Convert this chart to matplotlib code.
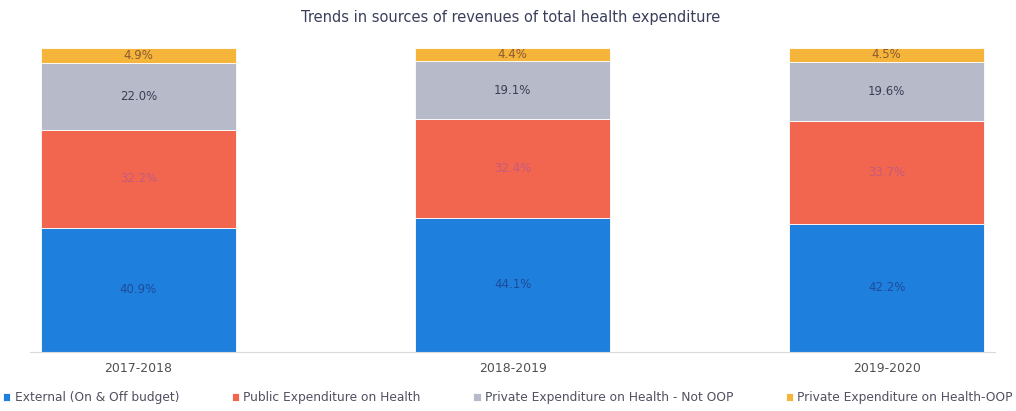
import matplotlib
matplotlib.use("Agg")
import matplotlib.pyplot as plt
import numpy as np

plt.rcParams['font.family'] = ['DejaVu Sans']

# Anos fiscais e participação de cada fonte (%)
anos = ['2017-2018', '2018-2019', '2019-2020']
externo = [40.9, 44.1, 42.2]
publico = [32.2, 32.4, 33.7]
privado_nao_oop = [22.0, 19.1, 19.6]
privado_oop = [4.9, 4.4, 4.5]

series = [
    ('External (On & Off budget)', externo, '#1f7fdc', '#1d4c9c'),
    ('Public Expenditure on Health', publico, '#f2664f', '#c45a7c'),
    ('Private Expenditure on Health - Not OOP', privado_nao_oop, '#b7bac9', '#3a3f55'),
    ('Private Expenditure on Health-OOP', privado_oop, '#f5b43a', '#8a5a35'),
]

fig = plt.figure(figsize=(10.16, 4.11), dpi=100)
ax = fig.add_axes([0.0295, 0.1436, 0.95, 0.74])

x = np.arange(len(anos))
base = np.zeros(len(anos))
for nome, valores, cor, cor_txt in series:
    valores = np.array(valores)
    ax.bar(x, valores, width=0.52, bottom=base, color=cor, label=nome,
           edgecolor='white', linewidth=0.6)
    for xi, b, v in zip(x, base, valores):
        ax.text(xi, b + v / 2, f"{v:.1f}%", ha='center', va='center',
                fontsize=8.5, color=cor_txt)
    base += valores

ax.set_xlim(-0.29, 2.29)
ax.set_ylim(0, 100)
ax.set_xticks(x)
ax.set_xticklabels(anos, fontsize=9, color='#505050')
ax.tick_params(axis='x', length=0, pad=7)
ax.set_yticks([])
for lado in ['top', 'right', 'left']:
    ax.spines[lado].set_visible(False)
ax.spines['bottom'].set_color('#d9d9d9')

fig.text(0.503, 0.958, 'Trends in sources of revenues of total health expenditure',
         ha='center', va='center', fontsize=10.5, color='#3a3f5c')

fig.legend(loc='lower center', bbox_to_anchor=(0.5, -0.01), ncol=4,
           frameon=False, fontsize=8.8, handlelength=0.6, handleheight=0.6,
           handletextpad=0.35, columnspacing=4.3, labelcolor='#505060')

fig.savefig('out.png', dpi=100)
